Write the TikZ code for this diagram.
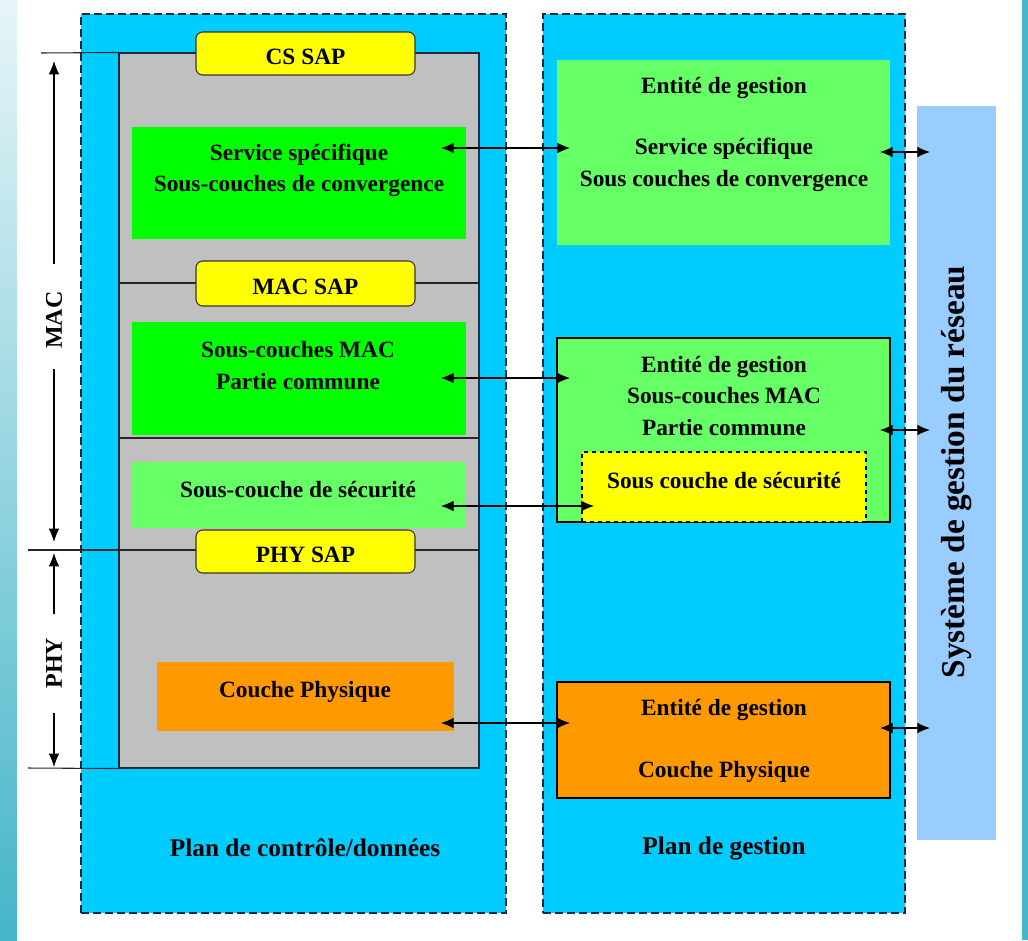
\documentclass[tikz,border=0pt]{standalone}
\usepackage{fontspec}
\setmainfont{Liberation Serif}
\usetikzlibrary{arrows.meta,fit}
\definecolor{panelcyan}{HTML}{00CCFF}
\definecolor{graybox}{HTML}{C0C0C0}
\definecolor{vgreen}{HTML}{00FF00}
\definecolor{lgreen}{HTML}{66FF66}
\definecolor{sapyellow}{HTML}{FFFF00}
\definecolor{phyorange}{HTML}{FF9900}
\definecolor{nmsblue}{HTML}{99CCFF}
\definecolor{edgeteal}{HTML}{45B5C8}
\definecolor{edgelight}{HTML}{E6F5F8}
\definecolor{navy}{HTML}{1A2A40}
\begin{document}
\begin{tikzpicture}[x=0.75pt,y=-0.75pt,
  panel/.style={fill=panelcyan,draw=navy,dash pattern=on 6pt off 3pt,line width=0.8pt,inner sep=0pt},
  plain/.style={inner sep=0pt,draw=none},
  bordered/.style={inner sep=0pt,draw=black,line width=0.8pt},
  sapbox/.style={inner sep=0pt,draw=black!80,line width=0.8pt,rounded corners=5pt,fill=sapyellow},
  lbl/.style={font=\fontsize{17.5}{23.5}\selectfont\bfseries,align=center,inner sep=0pt},
  title/.style={font=\fontsize{19}{23}\selectfont\bfseries,inner sep=0pt},
  dimlbl/.style={font=\fontsize{18}{22}\selectfont\bfseries,rotate=90,inner sep=0pt},
  biarrow/.style={{Latex[length=9.5pt,width=8pt]}-{Latex[length=9.5pt,width=8pt]},line width=0.8pt},
  dimarrow/.style={-{Latex[length=10pt,width=8pt]},line width=0.9pt},
  rule/.style={line width=0.8pt,draw=black!85}]
\useasboundingbox (0,0) rectangle (1028,940);
% background and screen edges
\fill[white] (0,0) rectangle (1028,940);
\shade[top color=edgelight,bottom color=edgeteal] (0,0) rectangle (17,940);
\fill[edgeteal] (1022,0) rectangle (1028,940);
% panels
\node[panel,fit={(81,14) (506,913)}] (cdp) {};
\node[panel,fit={(543,14) (905,913)}] (mp) {};
% grey stack
\node[fill=graybox,draw=navy,line width=0.8pt,inner sep=0pt,fit={(119,53) (479,768)}] (stack) {};
% horizontal rules
\coordinate (r1a) at (41,53);
\coordinate (r3a) at (28,550);
\coordinate (r3b) at (479,550);
\coordinate (r4a) at (28,768);
\coordinate (r2a) at (119,283);
\coordinate (r2b) at (479,283);
\coordinate (r5a) at (119,438);
\coordinate (r5b) at (479,438);
\draw[rule] (r1a) -- (stack.north west);
\draw[rule] (r2a) -- (r2b);
\draw[rule] (r5a) -- (r5b);
\draw[rule] (r3a) -- (r3b);
\draw[rule] (r4a) -- (stack.south west);
% left column boxes
\node[sapbox,fit={(196,32) (415,75)}] (cssap) {};
\node[lbl] (cssapt) at (305.5,57) {CS SAP};
\node[plain,fill=vgreen,fit={(132,127) (466,239)}] (svc) {};
\node[lbl] (svct) at (299,170.5) {Service spécifique\\Sous-couches de convergence};
\node[sapbox,fit={(196,261) (415,306)}] (macsap) {};
\node[lbl] (macsapt) at (305.5,287) {MAC SAP};
\node[plain,fill=vgreen,fit={(132,322) (466,435)}] (mac) {};
\node[lbl] (mact) at (298,365.5) {Sous-couches MAC\\Partie commune};
\node[plain,fill=lgreen,fit={(132,462) (466,528)}] (sec) {};
\node[lbl] (sect) at (298,490) {Sous-couche de sécurité};
\node[sapbox,fit={(196,530) (415,573)}] (physap) {};
\node[lbl] (physapt) at (305.5,555) {PHY SAP};
\node[plain,fill=phyorange,fit={(157,662) (454,731)}] (phy) {};
\node[lbl] (phyt) at (305,692) {Couche Physique};
\node[title] (cdpt) at (305,848) {Plan de contrôle/données};
% right column boxes
\node[plain,fill=lgreen,fit={(557,60) (890,245)}] (msvc) {};
\node[lbl] (msvct1) at (724,88) {Entité de gestion};
\node[lbl] (msvct2) at (724,165) {Service spécifique\\Sous couches de convergence};
\node[bordered,fill=lgreen,fit={(557,338) (890,522)}] (mmac) {};
\node[lbl] (mmact) at (724,396) {Entité de gestion\\Sous-couches MAC\\Partie commune};
\node[inner sep=0pt,fill=sapyellow,draw=black,dashed,line width=0.8pt,fit={(582,452) (866,522)}] (msec) {};
\node[lbl] (msect) at (724,481) {Sous couche de sécurité};
\node[bordered,fill=phyorange,fit={(557,682) (890,798)}] (mphy) {};
\node[lbl] (mphyt1) at (724,710) {Entité de gestion};
\node[lbl] (mphyt2) at (724,772) {Couche Physique};
\node[title] (mpt) at (724,848) {Plan de gestion};
% network management system
\node[plain,fill=nmsblue,fit={(917,106) (996,840)}] (nms) {};
\node[font=\fontsize{25}{28}\selectfont\bfseries,rotate=90,inner sep=0pt] (nmst) at (957,472) {Système de gestion du réseau};
% arrows between planes
\coordinate (a1l) at (441,148);
\coordinate (a1r) at (570,148);
\coordinate (a2l) at (441,378);
\coordinate (a2r) at (570,378);
\coordinate (a3l) at (441,506);
\coordinate (a3r) at (594,506);
\coordinate (a4l) at (441,723);
\coordinate (a4r) at (570,723);
\coordinate (b1l) at (880,152);
\coordinate (b1r) at (930,152);
\coordinate (b2l) at (880,430);
\coordinate (b2r) at (930,430);
\coordinate (b4l) at (880,728);
\coordinate (b4r) at (930,728);
\draw[biarrow] (a1l) -- (a1r);
\draw[biarrow] (a2l) -- (a2r);
\draw[biarrow] (a3l) -- (a3r);
\draw[biarrow] (a4l) -- (a4r);
\draw[biarrow] (b1l) -- (b1r);
\draw[biarrow] (b2l) -- (b2r);
\draw[biarrow] (b4l) -- (b4r);
% MAC / PHY dimension arrows
\node[dimlbl] (maclbl) at (54,320) {MAC};
\node[dimlbl] (phylbl) at (54,663) {PHY};
\coordinate (macup) at (54,61);
\coordinate (macdown) at (54,542);
\coordinate (phyup) at (54,553);
\coordinate (phydown) at (54,767);
\draw[dimarrow] (maclbl.east) ++(0,-27) -- (macup);
\draw[dimarrow] (maclbl.west) ++(0,20) -- (macdown);
\draw[dimarrow] (phylbl.east) ++(0,-23) -- (phyup);
\draw[dimarrow] (phylbl.west) ++(0,24) -- (phydown);
\end{tikzpicture}
\end{document}
